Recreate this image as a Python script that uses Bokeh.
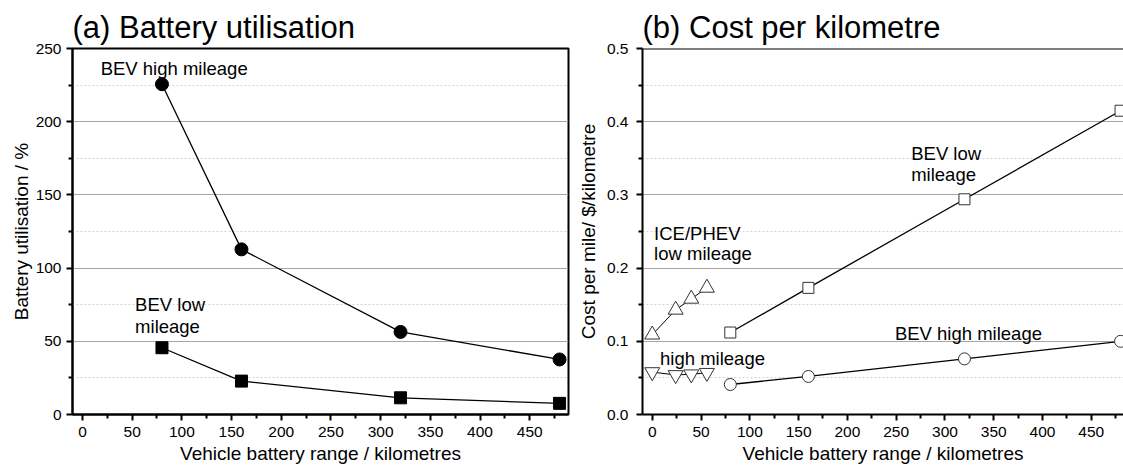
from bokeh.plotting import figure
from bokeh.layouts import row
from bokeh.models import Range1d, FixedTicker, Label, Span, NumeralTickFormatter
from bokeh.embed import file_html
from bokeh.resources import INLINE

# ---------------- data ----------------
bev_range_km = [80, 160, 320, 480]
util_high_mileage = [225.6, 112.8, 56.4, 37.6]
util_low_mileage = [45.6, 22.8, 11.4, 7.6]

ice_range_km = [0, 24, 40, 56]
ice_low_cost = [0.109, 0.143, 0.158, 0.173]
ice_high_cost = [0.058, 0.054, 0.055, 0.057]
bev_low_cost = [0.112, 0.173, 0.294, 0.415]
bev_high_cost = [0.041, 0.052, 0.076, 0.100]

x_major = [0, 50, 100, 150, 200, 250, 300, 350, 400, 450]
x_minor = [25, 75, 125, 175, 225, 275, 325, 375, 425, 475]
util_major = [0, 50, 100, 150, 200, 250]
util_minor = [25, 75, 125, 175, 225]
cost_major = [0.0, 0.1, 0.2, 0.3, 0.4, 0.5]
cost_minor = [0.05, 0.15, 0.25, 0.35, 0.45]

FONT = "Liberation Sans"
XLABEL = "Vehicle battery range / kilometres"


def style(p, xt, xm, yt, ym):
    p.xaxis.ticker = FixedTicker(ticks=xt, minor_ticks=xm)
    p.yaxis.ticker = FixedTicker(ticks=yt, minor_ticks=ym)
    for ax in [p.xaxis[0], p.yaxis[0]]:
        ax.axis_line_width = 2
        ax.axis_line_color = "black"
        ax.major_tick_line_width = 2
        ax.minor_tick_line_width = 2
        ax.major_tick_out = 6
        ax.major_tick_in = 0
        ax.minor_tick_out = 4
        ax.minor_tick_in = 0
        ax.major_label_text_font = FONT
        ax.major_label_text_font_size = "15.5px"
        ax.major_label_text_color = "black"
        ax.axis_label_text_font = FONT
        ax.axis_label_text_font_size = "19px"
        ax.axis_label_text_font_style = "normal"
        ax.axis_label_text_color = "black"
    p.xaxis.major_label_standoff = 6
    p.xaxis.axis_label_standoff = 3
    p.yaxis.major_label_standoff = 5
    p.xgrid.visible = False
    p.ygrid.grid_line_color = "#a6a6a6"
    p.ygrid.grid_line_width = 1
    p.ygrid.minor_grid_line_color = "#d4d4d4"
    p.ygrid.minor_grid_line_dash = "2 2"
    p.ygrid.minor_grid_line_width = 1
    p.title.text_font = FONT
    p.title.text_font_size = "31px"
    p.title.text_font_style = "normal"
    p.title.text_color = "black"
    p.title.align = "left"
    p.title.standoff = 7
    p.background_fill_color = "white"
    p.border_fill_color = "white"


def lab(p, x, y, t):
    p.add_layout(Label(x=x, y=y, text=t, text_font=FONT, text_font_size="18.5px",
                       text_color="black", text_baseline="alphabetic", text_align="left"))


# ---------------- (a) ----------------
p1 = figure(width=574, height=471, output_backend="svg", toolbar_location=None,
            x_range=Range1d(-10, 489), y_range=Range1d(0, 250),
            min_border_left=72, min_border_right=6, min_border_top=48, min_border_bottom=57,
            title="(a) Battery utilisation", x_axis_label=XLABEL,
            y_axis_label="Battery utilisation / %")
style(p1, x_major, x_minor, util_major, util_minor)
p1.yaxis.axis_label_standoff = 1
p1.outline_line_color = "black"
p1.outline_line_width = 2

p1.line(bev_range_km, util_high_mileage, line_color="black", line_width=1.3)
p1.scatter(bev_range_km, util_high_mileage, marker="circle", size=13,
           fill_color="black", line_color="black")
p1.line(bev_range_km, util_low_mileage, line_color="black", line_width=1.3)
p1.scatter(bev_range_km, util_low_mileage, marker="square", size=12,
           fill_color="black", line_color="black")

lab(p1, 18.3, 236.3, "BEV high mileage")
lab(p1, 53, 75.4, "BEV low")
lab(p1, 53, 60.2, "mileage")

# ---------------- (b) ----------------
p2 = figure(width=549, height=471, output_backend="svg", toolbar_location=None,
            x_range=Range1d(-10, 483), y_range=Range1d(0, 0.5),
            min_border_left=65, min_border_right=0, min_border_top=48, min_border_bottom=57,
            title="(b) Cost per kilometre", x_axis_label=XLABEL,
            y_axis_label="Cost per mile/ $/kilometre")
style(p2, x_major, x_minor, cost_major, cost_minor)
p2.yaxis.formatter = NumeralTickFormatter(format="0.0")
p2.yaxis.major_label_standoff = 8
p2.yaxis.axis_label_standoff = 5
p2.title.offset = 0
p2.outline_line_color = None
p2.add_layout(Span(location=0.5, dimension="width", line_color="black", line_width=2))

p2.line(ice_range_km, ice_low_cost, line_color="black", line_width=1)
p2.scatter(ice_range_km, ice_low_cost, marker="triangle", size=15,
           fill_color="white", line_color="#333333", line_width=1)
p2.line(ice_range_km, ice_high_cost, line_color="black", line_width=1)
p2.scatter(ice_range_km, ice_high_cost, marker="inverted_triangle", size=15,
           fill_color="white", line_color="#333333", line_width=1)
p2.line(bev_range_km, bev_low_cost, line_color="black", line_width=1.3)
p2.scatter(bev_range_km, bev_low_cost, marker="square", size=11,
           fill_color="white", line_color="#333333", line_width=1)
p2.line(bev_range_km, bev_high_cost, line_color="black", line_width=1.3)
p2.scatter(bev_range_km, bev_high_cost, marker="circle", size=12,
           fill_color="white", line_color="#333333", line_width=1)

lab(p2, 1.9, 0.2477, "ICE/PHEV")
lab(p2, 1.9, 0.2195, "low mileage")
lab(p2, 8.0, 0.0761, "high mileage")
lab(p2, 265.4, 0.357, "BEV low")
lab(p2, 265.4, 0.3275, "mileage")
lab(p2, 248.7, 0.110, "BEV high mileage")

layout = row(p1, p2)
open("out.html", "w").write(file_html(layout, INLINE))
